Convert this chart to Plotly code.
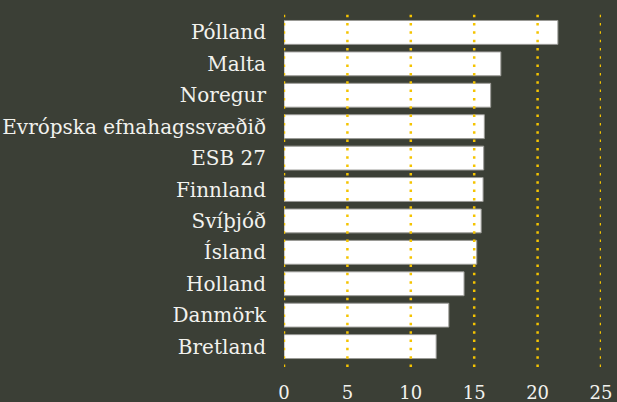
import plotly.graph_objects as go

countries = ["Pólland", "Malta", "Noregur", "Evrópska efnahagssvæðið", "ESB 27",
             "Finnland", "Svíþjóð", "Ísland", "Holland", "Danmörk", "Bretland"]
values = [21.6, 17.1, 16.3, 15.8, 15.75, 15.7, 15.55, 15.2, 14.2, 13.0, 12.0]
x_ticks = [0, 5, 10, 15, 20, 25]

BG = "#3b3f36"
TXT = "#f2f2ee"
GRID = "#f5c400"
FONT = "DejaVu Serif"

fig = go.Figure(go.Bar(
    x=values, y=countries, orientation="h",
    marker=dict(color="#ffffff", line=dict(color="#9a9a96", width=1)),
    width=0.76,
))

for t in x_ticks:
    fig.add_shape(type="line", xref="x", yref="paper", x0=t, x1=t, y0=0, y1=1,
                  line=dict(color=GRID, width=2.5, dash="2.5px,5.83px"), layer="above")

fig.update_layout(
    width=617, height=402,
    margin=dict(l=284, r=16, t=12, b=35),
    paper_bgcolor=BG, plot_bgcolor=BG,
    font=dict(family=FONT, size=18, color=TXT),
    showlegend=False,
    bargap=0.24,
)
fig.update_xaxes(range=[0, 25], tickvals=x_ticks, showgrid=False, zeroline=False,
                 showline=False, ticks="", ticklabelstandoff=13, automargin=False,
                 tickfont=dict(family=FONT, size=18, color=TXT), fixedrange=True)
fig.update_yaxes(categoryorder="array", categoryarray=countries, autorange=False,
                 range=[10.65, -0.65], showgrid=False, zeroline=False, showline=False,
                 ticks="", ticklabelstandoff=17, automargin=False,
                 tickfont=dict(family=FONT, size=20, color=TXT), fixedrange=True)

fig.write_html("out.html", config={"displayModeBar": False},
               post_script="document.body.style.margin='0';document.body.style.background='%s';" % BG)
